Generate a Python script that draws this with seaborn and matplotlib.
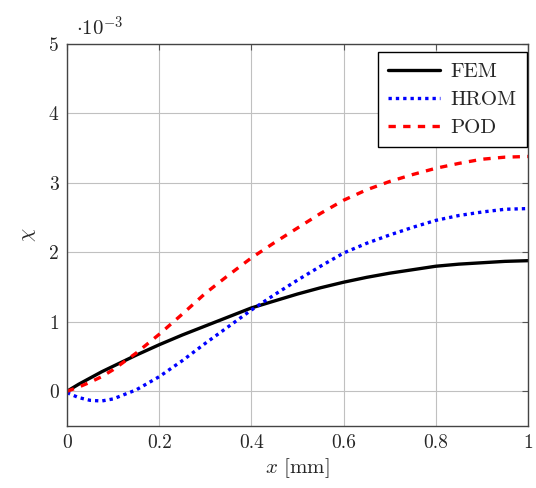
import numpy as np
import pandas as pd
import matplotlib
matplotlib.use("Agg")
import matplotlib.pyplot as plt
import seaborn as sns

x = [0.0, 0.025, 0.05, 0.075, 0.1, 0.15, 0.2, 0.25, 0.3, 0.35, 0.4, 0.45, 0.5,
     0.55, 0.6, 0.65, 0.7, 0.75, 0.8, 0.85, 0.9, 0.95, 1.0]
fem = [0.0, 0.10, 0.19, 0.28, 0.36, 0.52, 0.67, 0.81, 0.94, 1.07, 1.20, 1.30, 1.40,
       1.49, 1.57, 1.64, 1.70, 1.75, 1.80, 1.83, 1.85, 1.87, 1.88]
hrom = [-0.02, -0.09, -0.13, -0.14, -0.11, 0.02, 0.21, 0.44, 0.69, 0.93, 1.17, 1.39, 1.60,
        1.80, 1.99, 2.13, 2.25, 2.36, 2.46, 2.53, 2.58, 2.62, 2.63]
pod = [0.0, 0.06, 0.13, 0.21, 0.31, 0.55, 0.82, 1.11, 1.41, 1.67, 1.92, 2.14, 2.35,
       2.56, 2.75, 2.90, 3.02, 3.12, 3.21, 3.28, 3.34, 3.37, 3.38]
xticks = [0, 0.2, 0.4, 0.6, 0.8, 1]
xticklabels = ["0", "0.2", "0.4", "0.6", "0.8", "1"]
yticks = [0, 1, 2, 3, 4, 5]
yticklabels = ["0", "1", "2", "3", "4", "5"]

sns.set_style("white")
plt.rcParams["font.family"] = ["serif"]
plt.rcParams["font.serif"] = ["cmr10", "DejaVu Serif"]
plt.rcParams["mathtext.fontset"] = "cm"
plt.rcParams["axes.unicode_minus"] = False

df = pd.DataFrame({"x": x, "FEM": fem, "HROM": hrom, "POD": pod})

fig = plt.figure(figsize=(5.36, 4.88), dpi=100)
ax = fig.add_axes([0.125, 0.127, 0.86, 0.783])

sns.lineplot(data=df, x="x", y="FEM", ax=ax, color="black", lw=2.4, label="FEM")
sns.lineplot(data=df, x="x", y="HROM", ax=ax, color="blue", lw=2.4, label="HROM",
             linestyle=(0, (1, 1.2)))
sns.lineplot(data=df, x="x", y="POD", ax=ax, color="red", lw=2.4, label="POD",
             linestyle=(0, (2.2, 2.2)))

ax.set_xlim(0, 1)
ax.set_ylim(-0.5, 5)
ax.set_xticks(xticks)
ax.set_xticklabels(xticklabels)
ax.set_yticks(yticks)
ax.set_yticklabels(yticklabels)
ax.grid(True, color="#c0c0c0", lw=0.8)
ax.tick_params(direction="in", length=4, width=0.8, color="#555555", labelsize=14,
               top=True, right=True, pad=6)
for s in ax.spines.values():
    s.set_color("#444444")
    s.set_linewidth(1.0)

ax.set_xlabel(r"$x$ [mm]", fontsize=15, labelpad=3)
ax.set_ylabel(r"$\chi$", fontsize=15, labelpad=8)
ax.text(0.02, 1.012, r"$\cdot 10^{-3}$", transform=ax.transAxes, fontsize=15,
        ha="left", va="bottom")

leg = ax.legend(loc="upper right", bbox_to_anchor=(0.998, 0.979),
                fontsize=15, frameon=True, fancybox=False,
                edgecolor="black", framealpha=1, handlelength=2.5,
                borderaxespad=0.0, labelspacing=0.45, handletextpad=0.5,
                borderpad=0.5)
leg.get_frame().set_linewidth(1.0)

fig.savefig("out.png", dpi=100)
